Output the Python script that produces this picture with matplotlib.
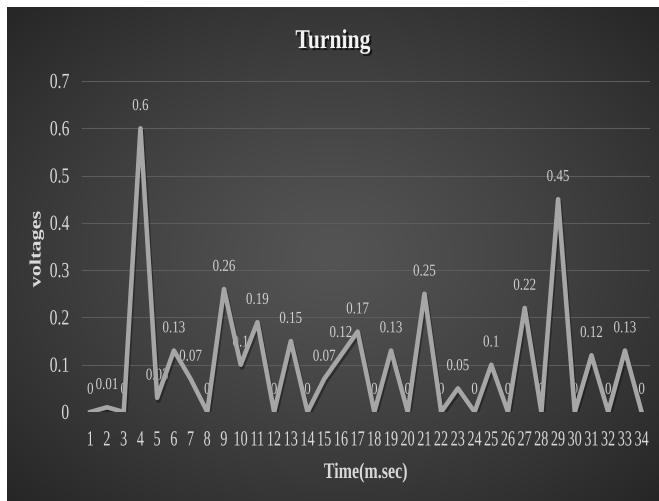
import numpy as np
import matplotlib
matplotlib.use("Agg")
import matplotlib.pyplot as plt
import matplotlib.patheffects as pe
from matplotlib.transforms import Affine2D

plt.rcParams['font.family'] = ['Liberation Serif', 'DejaVu Serif']

# data
times = list(range(1, 35))
voltages = [0, 0.01, 0, 0.6, 0.03, 0.13, 0.07, 0, 0.26, 0.1,
            0.19, 0, 0.15, 0, 0.07, 0.12, 0.17, 0, 0.13, 0,
            0.25, 0, 0.05, 0, 0.1, 0, 0.22, 0, 0.45, 0,
            0.12, 0, 0.13, 0]
y_ticks = [0, 0.1, 0.2, 0.3, 0.4, 0.5, 0.6, 0.7]
y_tick_labels = ['0', '0.1', '0.2', '0.3', '0.4', '0.5', '0.6', '0.7']


class Squeeze(pe.AbstractPathEffect):
    """squash glyphs (the source picture is narrowed horizontally)"""
    def __init__(self, sx=1.0, sy=1.0, anchor='center', inner=None):
        super().__init__()
        self.sx, self.sy, self.anchor = sx, sy, anchor
        self.inner = inner or [pe.Normal()]

    def draw_path(self, renderer, gc, tpath, affine, rgbFace=None):
        v = tpath.vertices
        if len(v):
            x0, x1 = v[:, 0].min(), v[:, 0].max()
            y0, y1 = v[:, 1].min(), v[:, 1].max()
        else:
            x0 = x1 = y0 = y1 = 0
        cx = {'center': (x0 + x1) / 2, 'right': x1, 'left': x0}[self.anchor]
        cy = (y0 + y1) / 2
        t = Affine2D().translate(-cx, -cy).scale(self.sx, self.sy).translate(cx, cy)
        for eff in self.inner:
            eff.draw_path(renderer, gc, tpath, t + affine, rgbFace)


W, H = 659, 502
fig = plt.figure(figsize=(W / 100, H / 100), dpi=100, facecolor='white')

# dark radial background
bg = fig.add_axes([7 / W, 0, (W - 7) / W, (H - 8) / H], zorder=-5)
gx, gy = np.meshgrid(np.linspace(-1, 1, 300), np.linspace(-1, 1, 300))
r = np.clip(np.sqrt(gx ** 2 + gy ** 2) / np.sqrt(2), 0, 1)
shade = 0.33 - 0.18 * r ** 1.2
bg.imshow(np.dstack([shade] * 3), extent=[0, 1, 0, 1], aspect='auto', interpolation='bilinear')
bg.set_axis_off()

ax = fig.add_axes([82 / W, (H - 413) / H, 568 / W, 331 / H])
ax.set_facecolor('none')
for s in ax.spines.values():
    s.set_visible(False)

ax.plot(times, voltages, color='#a6a6a6', lw=3.3, solid_joinstyle='round', zorder=4,
        path_effects=[pe.SimpleLineShadow(offset=(1, -2), shadow_color='black', alpha=0.35),
                      pe.Normal()])

for t, v in zip(times, voltages):
    ax.annotate(f"{v:g}", (t, v), xytext=(0, 16), textcoords='offset points',
                ha='center', va='center', fontsize=12, color='#d0d0d0', zorder=3,
                path_effects=[Squeeze(sx=0.78)])

ax.set_xlim(0.5, 34.5)
ax.set_ylim(0, 0.7)
ax.set_yticks(y_ticks, y_tick_labels, fontsize=15.5, color='#d9d9d9',
              path_effects=[Squeeze(sx=0.73, anchor='right')])
ax.set_xticks(times, [str(t) for t in times], fontsize=15.5, color='#d9d9d9',
              path_effects=[Squeeze(sx=0.66)])
ax.tick_params(axis='both', length=0)
ax.tick_params(axis='x', pad=14)
ax.tick_params(axis='y', pad=9)
ax.grid(axis='y', color='#5c5c5c', lw=0.8)
ax.set_axisbelow(True)

fig.text(333 / W, 1 - 49 / H, 'Turning', ha='center', va='baseline', fontsize=19.5,
         fontweight='bold', color='#f2f2f2',
         path_effects=[Squeeze(sx=0.8, inner=[
             pe.SimplePatchShadow(offset=(1.5, -1.5), shadow_rgbFace='black', alpha=0.6),
             pe.Normal()])])
fig.text(366 / W, 1 - 479 / H, 'Time(m.sec)', ha='center', va='baseline', fontsize=16,
         fontweight='bold', color='#d9d9d9', path_effects=[Squeeze(sx=0.72)])
fig.text(37 / W, 1 - 250 / H, 'voltages', ha='center', va='center', rotation=90,
         fontsize=16, fontweight='bold', color='#d9d9d9',
         path_effects=[Squeeze(sy=0.72)])

fig.savefig('out.png', dpi=100)
